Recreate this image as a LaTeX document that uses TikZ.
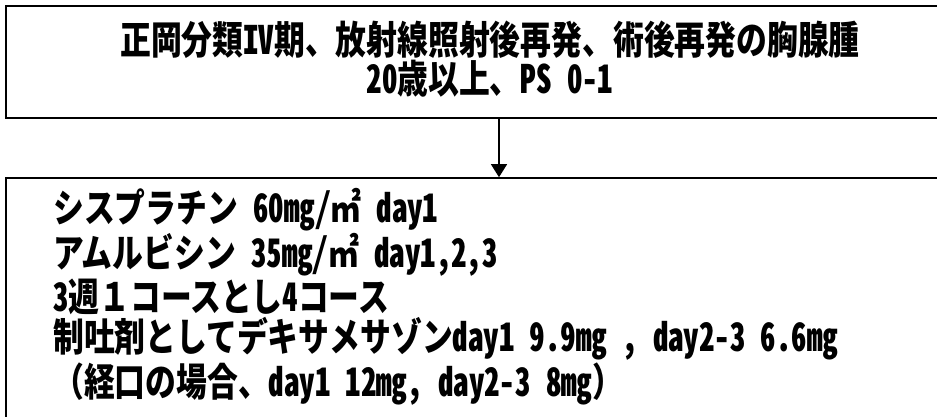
\documentclass[tikz,border=0pt]{standalone}
\usepackage{fontspec}
\newfontfamily\jpfont{Noto Sans CJK JP}[FakeStretch=0.79]
\newfontfamily\hwfont{Noto Sans CJK JP}[FakeStretch=0.79, RawFeature=+hwid]
\newcommand{\lat}[1]{{\hwfont\bfseries #1}}
\usetikzlibrary{positioning, arrows.meta}

\begin{document}
\begin{tikzpicture}[x=1pt,y=-1pt,
  box/.style={draw, line width=1.6pt, rectangle, minimum width=986pt, inner sep=0pt},
  flow/.style={-{Triangle[length=13pt,width=16pt]}, line width=1.3pt},
  jptext/.style={font=\jpfont\bfseries\fontsize{39}{38}\selectfont, inner sep=0pt}]
\clip (0,0) rectangle (937,417);
% eligibility
\node[box, minimum height=112pt] (elig) at (499,62) {};
\node[jptext, align=center] (criteria) at (490,59)
  {正岡分類\lat{IV}期、放射線照射後再発、術後再発の胸腺腫\\[1pt]\lat{20}歳以上、\lat{PS 0-1}};
% regimen
\node[box, minimum height=262pt] (regimen) at (499,309) {};
\node[jptext, align=left, anchor=north west] (doses) at (53,188)
  {シスプラチン\lat{ 60}㎎\lat{/}㎡\lat{ day1}\\[1.5pt]
   アムルビシン\lat{ 35}㎎\lat{/}㎡\lat{ day1,2,3}\\[1.5pt]
   \lat{3}週１コースとし\lat{4}コース\\[1.5pt]
   制吐剤としてデキサメサゾン\lat{day1 9.9}㎎\lat{ , day2-3 6.6}㎎\\[1.5pt]
   （経口の場合、\lat{day1 12}㎎\lat{, day2-3 8}㎎）};
\draw[flow] (elig.south) -- (regimen.north);
\end{tikzpicture}
\end{document}
